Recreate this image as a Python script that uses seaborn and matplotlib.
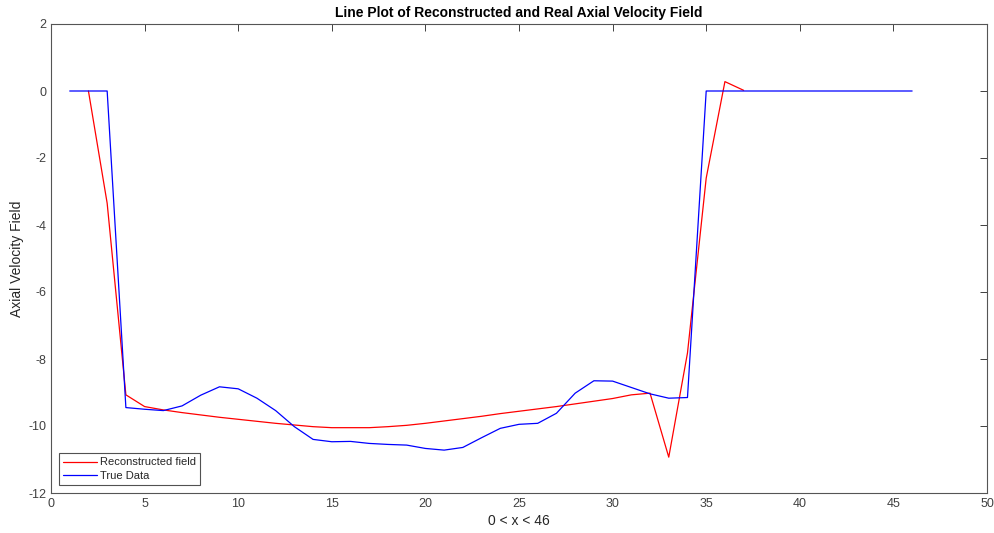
import matplotlib
matplotlib.use("Agg")
import matplotlib.pyplot as plt
import seaborn as sns
import pandas as pd

x_recon = list(range(2, 38))
y_recon = [0.0, -3.35, -9.07, -9.42, -9.52, -9.6, -9.67, -9.74, -9.8, -9.86,
           -9.92, -9.97, -10.02, -10.05, -10.05, -10.05, -10.02, -9.98, -9.92, -9.85,
           -9.78, -9.71, -9.63, -9.56, -9.49, -9.42, -9.34, -9.26, -9.18, -9.07,
           -9.02, -10.93, -7.82, -2.6, 0.28, 0.02]

x_true = list(range(1, 47))
y_true = [0.0, 0.0, 0.0, -9.45, -9.5, -9.54, -9.4, -9.08, -8.83, -8.89,
          -9.17, -9.54, -10.02, -10.4, -10.47, -10.46, -10.52, -10.55, -10.57, -10.67,
          -10.72, -10.64, -10.35, -10.07, -9.95, -9.92, -9.62, -9.02, -8.65, -8.66,
          -8.85, -9.04, -9.17, -9.15, 0.0, 0.0, 0.0, 0.0, 0.0, 0.0,
          0.0, 0.0, 0.0, 0.0, 0.0, 0.0]

series_names = ["Reconstructed field", "True Data"]
x_ticks = list(range(0, 51, 5))
y_ticks = list(range(-12, 3, 2))

sns.set_style("white")
plt.rcParams['font.family'] = ['Liberation Sans', 'DejaVu Sans']
plt.rcParams['axes.unicode_minus'] = False

fig = plt.figure(figsize=(9.95, 5.33), dpi=100)
ax = fig.add_axes([51/995, 1-493/533, (987-51)/995, (493-24)/533])

df_r = pd.DataFrame({"x": x_recon, "y": y_recon})
df_t = pd.DataFrame({"x": x_true, "y": y_true})
sns.lineplot(data=df_r, x="x", y="y", ax=ax, color="#ff0000", linewidth=0.9, label=series_names[0])
sns.lineplot(data=df_t, x="x", y="y", ax=ax, color="#0000ff", linewidth=0.9, label=series_names[1])

ax.set_xlim(0, 50)
ax.set_ylim(-12, 2)
ax.set_xticks(x_ticks)
ax.set_yticks(y_ticks)
ax.tick_params(direction="in", length=5, width=0.7, labelsize=9, colors="#404040",
               top=True, right=True)
for s in ax.spines.values():
    s.set_color("#555555")
    s.set_linewidth(0.8)
ax.set_xlabel("0 < x < 46", fontsize=10, color="#262626", labelpad=3)
ax.set_ylabel("Axial Velocity Field", fontsize=10, color="#262626", labelpad=3)
ax.set_title("Line Plot of Reconstructed and Real Axial Velocity Field",
             fontsize=10, fontweight="bold", color="black", pad=5)
leg = ax.legend(loc="lower left", fontsize=8, frameon=True, fancybox=False,
                edgecolor="#262626", borderpad=0.4, handlelength=3.0,
                handletextpad=0.3, labelspacing=0.3, borderaxespad=0.7)
leg.get_frame().set_linewidth(0.8)

fig.savefig("out.png", dpi=100)
